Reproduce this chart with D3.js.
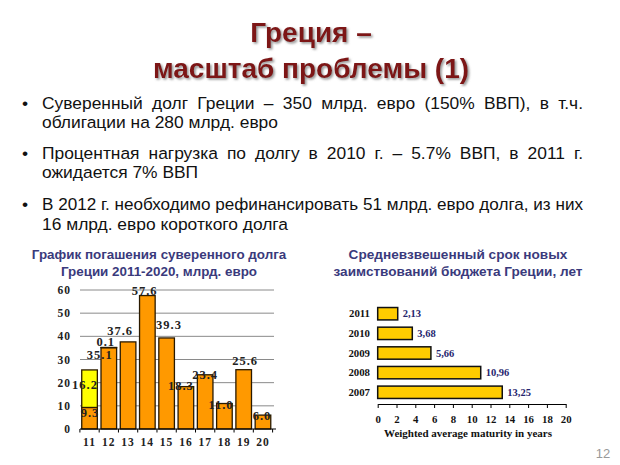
<!DOCTYPE html>
<html><head><meta charset="utf-8">
<script src="https://cdn.jsdelivr.net/npm/d3@7"></script>
<style>body{margin:0;background:#fff}svg{display:block}</style>
</head><body>
<svg id="c" width="620" height="465"></svg>
<script>
// ---------- data ----------
const titleLines = ["Греция –", "масштаб проблемы (1)"];
const bullets = [
  ["Суверенный долг Греции – 350 млрд. евро (150% ВВП), в т.ч.", "облигации на 280 млрд. евро"],
  ["Процентная нагрузка по долгу в 2010 г. – 5.7% ВВП, в 2011 г.", "ожидается 7% ВВП"],
  ["В 2012 г. необходимо рефинансировать 51 млрд. евро долга, из них", "16 млрд. евро короткого долга"]
];
const leftTitle = ["График погашения суверенного долга", "Греции 2011-2020, млрд. евро"];
const years = ["11","12","13","14","15","16","17","18","19","20"];
const baseValues = [9.3, 35.1, 37.6, 57.6, 39.3, 18.3, 23.4, 11.0, 25.6, 6.0];
const topValues  = [16.2, 0.1, 0, 0, 0, 0, 0, 0, 0, 0];
const leftTicks = [0,10,20,30,40,50,60];

const rightTitle = ["Средневзвешенный срок новых", "заимствований бюджета Греции, лет"];
const matYears = ["2011","2010","2009","2008","2007"];
const matValues = [2.13, 3.68, 5.66, 10.96, 13.25];
const matLabels = ["2,13","3,68","5,66","10,96","13,25"];
const rightTicks = [0,2,4,6,8,10,12,14,16,18,20];
const rightAxisTitle = "Weighted average maturity in years";
const pageNumber = "12";

// ---------- drawing ----------
const svg = d3.select("#c");
const sans = "'Liberation Sans', Arial, sans-serif";
const serif = "'Liberation Serif', 'Times New Roman', serif";

const defs = svg.append("defs");
const f = defs.append("filter").attr("id","sh").attr("x","-10%").attr("y","-20%").attr("width","130%").attr("height","150%");
f.append("feDropShadow").attr("dx",1.6).attr("dy",1.6).attr("stdDeviation",1).attr("flood-color","#777").attr("flood-opacity",0.8);

// title
svg.append("g").selectAll("text").data(titleLines).join("text")
  .attr("x", 311).attr("y", (d,i)=> 42 + i*36)
  .attr("text-anchor","middle").attr("font-family",sans).attr("font-weight","bold")
  .attr("font-size", 28).attr("fill","#7d1212").attr("filter","url(#sh)")
  .text(d=>d);

// bullets
const lineY = [[109,128],[159,178],[210,230]];
const textLeft = 42, textRight = 583;
bullets.forEach((b,bi)=>{
  svg.append("text").attr("x",22).attr("y",lineY[bi][0]).attr("font-family",sans)
    .attr("font-size",17.4).attr("fill","#111").text("•");
  b.forEach((line,li)=>{
    const t = svg.append("text").attr("x",textLeft).attr("y",lineY[bi][li])
      .attr("font-family",sans).attr("font-size",17.4).attr("fill","#111").text(line);
    if (li === 0) {
      const w = t.node().getComputedTextLength();
      const n = (line.match(/ /g)||[]).length;
      if (n>0 && w < textRight-textLeft) t.attr("word-spacing", ((textRight-textLeft)-w)/n);
      else if (w > textRight-textLeft) t.attr("textLength", textRight-textLeft).attr("lengthAdjust","spacingAndGlyphs");
    }
  });
});

// ----- left chart -----
const titleColor = "#3a3a7c";
svg.append("g").selectAll("text").data(leftTitle).join("text")
  .attr("x", 159).attr("y",(d,i)=>259+i*17).attr("text-anchor","middle")
  .attr("font-family",sans).attr("font-weight","bold").attr("font-size",13.4)
  .attr("fill",titleColor).text(d=>d);

const x = d3.scaleBand().domain(years).range([80,272.5]).paddingInner(0.19).paddingOuter(0.09);
const y = d3.scaleLinear().domain([0,60]).range([429,290]);
const gL = svg.append("g");

// gridlines
gL.selectAll("line.grid").data(leftTicks.filter(t=>t>0)).join("line")
  .attr("x1",80).attr("x2",274).attr("y1",d=>y(d)).attr("y2",d=>y(d))
  .attr("stroke","#8a8a8a").attr("stroke-width",1);

// y labels
gL.selectAll("text.yl").data(leftTicks).join("text")
  .attr("x",71).attr("y",d=>y(d)+4).attr("text-anchor","end")
  .attr("font-family",serif).attr("font-weight","bold").attr("font-size",11.5)
  .attr("letter-spacing",1).attr("fill","#222").text(d=>d);

// bars
const stack = years.map((yr,i)=>({yr, b:baseValues[i], t:topValues[i]}));
gL.selectAll("rect.b").data(stack).join("rect")
  .attr("x",d=>x(d.yr)).attr("width",x.bandwidth())
  .attr("y",d=>y(d.b)).attr("height",d=>y(0)-y(d.b))
  .attr("fill","#ff9900").attr("stroke","#2a1a00").attr("stroke-width",1.3);
gL.selectAll("rect.t").data(stack.filter(d=>d.t>0)).join("rect")
  .attr("x",d=>x(d.yr)).attr("width",x.bandwidth())
  .attr("y",d=>y(d.b+d.t)).attr("height",d=>y(d.b)-y(d.b+d.t))
  .attr("fill","#ffff00").attr("stroke","#2a1a00").attr("stroke-width",1.3);

// baseline axis
const xAxis = d3.axisBottom(x).tickSize(0).tickPadding(9);
const ax = gL.append("g").attr("transform",`translate(0,${y(0)})`).call(xAxis);
ax.select(".domain").attr("d","M80,0H276").attr("stroke","#000").attr("stroke-width",1.2);
ax.selectAll("text").attr("font-family",serif).attr("font-weight","bold").attr("font-size",11.5)
  .attr("letter-spacing",1).attr("fill","#222");
const bounds = years.map(d=>x(d)-x.step()*x.paddingInner()/2).concat([x(years[years.length-1])+x.bandwidth()+x.step()*x.paddingInner()/2]);
gL.selectAll("line.bt").data(bounds).join("line")
  .attr("x1",d=>d).attr("x2",d=>d).attr("y1",y(0)).attr("y2",y(0)+3.5)
  .attr("stroke","#000");

// value labels: anchored on each segment's top, with small layout nudges [dx, dy] as in the original slide
const topNudge  = [[-4.5,15],[-3,-5.4],null,null,null,null,null,null,null,null];
const baseNudge = [[0.5,5.5],[-9,7.3],[-8,-11],[-2.7,-4.5],[2.4,-13],[-5,-0.6],[0,0],[-3.4,1.5],[1.4,-8.7],[-1,1]];
const lab = [];
stack.forEach((d,i)=>{
  const cx = x(d.yr)+x.bandwidth()/2;
  if (d.t > 0) {
    const n = topNudge[i] || [0,-4];
    lab.push({x:cx+n[0], y:y(d.b+d.t)+n[1]+4, s:d.t.toFixed(1)});
  }
  const n2 = baseNudge[i];
  lab.push({x:cx+n2[0], y:y(d.b)+n2[1]+4, s:d.b.toFixed(1)});
});
gL.selectAll("text.v").data(lab).join("text")
  .attr("x",d=>d.x).attr("y",d=>d.y).attr("text-anchor","middle")
  .attr("font-family",serif).attr("font-weight","bold").attr("font-size",12.5)
  .attr("letter-spacing",1).attr("fill","#222").text(d=>d.s);

// ----- right chart -----
svg.append("g").selectAll("text").data(rightTitle).join("text")
  .attr("x", 458).attr("y",(d,i)=>259+i*17).attr("text-anchor","middle")
  .attr("font-family",sans).attr("font-weight","bold").attr("font-size",13.6)
  .attr("fill",titleColor).text(d=>d);

const xr = d3.scaleLinear().domain([0,20]).range([377.7,565.7]);
const yr = d3.scaleBand().domain(matYears).range([304,402]).paddingInner(0.37).paddingOuter(0.18);
const gR = svg.append("g");
const rd = matYears.map((yy,i)=>({yy, v:matValues[i], l:matLabels[i]}));
gR.selectAll("rect").data(rd).join("rect")
  .attr("x",xr(0)).attr("y",d=>yr(d.yy)).attr("width",d=>xr(d.v)-xr(0)).attr("height",yr.bandwidth())
  .attr("fill","#ffcc00").attr("stroke","#111").attr("stroke-width",1.5);
gR.selectAll("text.vl").data(rd).join("text")
  .attr("x",d=>xr(d.v)+5).attr("y",d=>yr(d.yy)+yr.bandwidth()/2+3.5)
  .attr("font-family",serif).attr("font-weight","bold").attr("font-size",10.5)
  .attr("fill","#26266e").text(d=>d.l);
gR.selectAll("text.cl").data(rd).join("text")
  .attr("x",370).attr("y",d=>yr(d.yy)+yr.bandwidth()/2+3.5).attr("text-anchor","end")
  .attr("font-family",serif).attr("font-weight","bold").attr("font-size",10.8)
  .attr("fill","#111").text(d=>d.yy);
const axR = gR.append("g").attr("transform","translate(0,404)")
  .call(d3.axisBottom(xr).tickValues(rightTicks).tickSize(4).tickSizeOuter(0).tickPadding(7));
axR.select(".domain").attr("stroke","#000");
axR.selectAll(".tick line").attr("stroke","#000");
axR.selectAll("text").attr("font-family",serif).attr("font-weight","bold").attr("font-size",10.8).attr("fill","#111");
gR.append("text").attr("x",468).attr("y",437).attr("text-anchor","middle")
  .attr("font-family",serif).attr("font-weight","bold").attr("font-size",11).attr("fill","#111")
  .text(rightAxisTitle);

// page number
svg.append("text").attr("x",603).attr("y",458).attr("text-anchor","middle")
  .attr("font-family",sans).attr("font-size",13).attr("fill","#999").text(pageNumber);
</script>
</body></html>
